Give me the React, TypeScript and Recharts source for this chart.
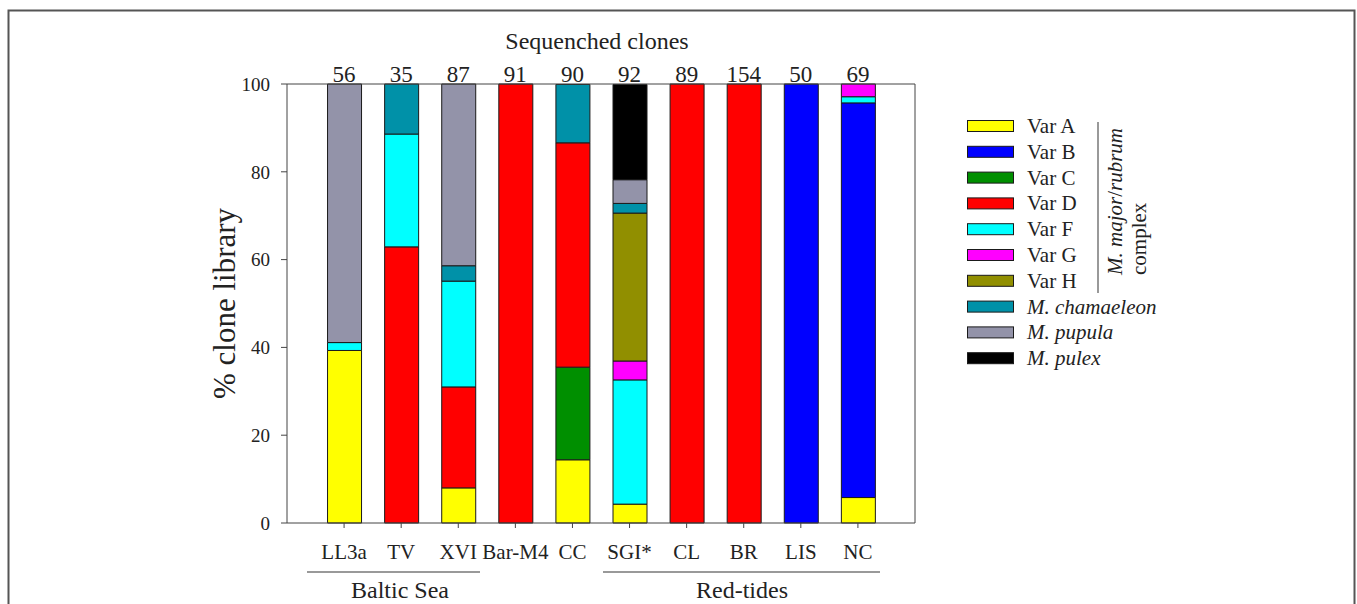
import { BarChart, Bar, XAxis, YAxis, Label, ReferenceLine } from 'recharts';

const sites = ['LL3a', 'TV', 'XVI', 'Bar-M4', 'CC', 'SGI*', 'CL', 'BR', 'LIS', 'NC'];
const clones = [56, 35, 87, 91, 90, 92, 89, 154, 50, 69];

// % of each clone library, bottom to top of each stack
const varA = [39.3, 0, 8.0, 0, 14.4, 4.3, 0, 0, 0, 5.8];
const varB = [0, 0, 0, 0, 0, 0, 0, 0, 100, 89.9];
const varC = [0, 0, 0, 0, 21.1, 0, 0, 0, 0, 0];
const varD = [0, 62.9, 23.0, 100, 51.1, 0, 100, 100, 0, 0];
const varF = [1.8, 25.7, 24.1, 0, 0, 28.3, 0, 0, 0, 1.4];
const varG = [0, 0, 0, 0, 0, 4.3, 0, 0, 0, 2.9];
const varH = [0, 0, 0, 0, 0, 33.7, 0, 0, 0, 0];
const chamaeleon = [0, 11.4, 3.5, 0, 13.3, 2.2, 0, 0, 0, 0];
const pupula = [58.9, 0, 41.4, 0, 0, 5.4, 0, 0, 0, 0];
const pulex = [0, 0, 0, 0, 0, 21.7, 0, 0, 0, 0];

const series = [
  { key: 'varA', name: 'Var A', values: varA, color: '#ffff00', italic: false },
  { key: 'varB', name: 'Var B', values: varB, color: '#0000ff', italic: false },
  { key: 'varC', name: 'Var C', values: varC, color: '#008f00', italic: false },
  { key: 'varD', name: 'Var D', values: varD, color: '#ff0000', italic: false },
  { key: 'varF', name: 'Var F', values: varF, color: '#00ffff', italic: false },
  { key: 'varG', name: 'Var G', values: varG, color: '#ff00ff', italic: false },
  { key: 'varH', name: 'Var H', values: varH, color: '#918f00', italic: false },
  { key: 'cham', name: 'M. chamaeleon', values: chamaeleon, color: '#0091a8', italic: true },
  { key: 'pupula', name: 'M. pupula', values: pupula, color: '#9393a9', italic: true },
  { key: 'pulex', name: 'M. pulex', values: pulex, color: '#000000', italic: true },
];

const data = sites.map((site, i) => {
  const row: Record<string, number | string> = { x: i + 1, site, n: clones[i] };
  series.forEach((s) => { row[s.key] = s.values[i]; });
  return row;
});

const FONT = '"Liberation Serif", "Times New Roman", serif';
const INK = '#222';
const AXIS = '#444';

export default function App() {
  return (
    <div style={{ position: 'absolute', left: 0, top: 0, width: 1357, height: 604, overflow: 'hidden', background: '#fff', fontFamily: FONT }}>
      <BarChart
        width={1357}
        height={604}
        data={data}
        margin={{ top: 54, right: 442, bottom: 51, left: 227 }}
        barSize={34}
      >
        <XAxis
          dataKey="x"
          type="number"
          domain={[0, 11]}
          ticks={[1, 2, 3, 4, 5, 6, 7, 8, 9, 10]}
          tickFormatter={(v: number) => sites[v - 1]}
          height={30}
          tickSize={5}
          tickMargin={16}
          stroke={AXIS}
          tick={{ fill: INK, fontSize: 21, fontFamily: FONT }}
        />
        <XAxis
          xAxisId="top"
          orientation="top"
          dataKey="x"
          type="number"
          domain={[0, 11]}
          ticks={[1, 2, 3, 4, 5, 6, 7, 8, 9, 10]}
          tickFormatter={(v: number) => String(clones[v - 1])}
          height={30}
          tickSize={0}
          tickMargin={2}
          tickLine={false}
          stroke={AXIS}
          tick={{ fill: INK, fontSize: 23, fontFamily: FONT }}
        />
        <YAxis
          type="number"
          domain={[0, 100]}
          ticks={[0, 20, 40, 60, 80, 100]}
          width={60}
          tickSize={6}
          tickMargin={11}
          stroke={AXIS}
          tick={{ fill: INK, fontSize: 19, fontFamily: FONT }}
        >
          <Label
            value="% clone library"
            angle={-90}
            position="left"
            offset={3}
            style={{ textAnchor: 'middle', fontSize: 31, fontFamily: FONT, fill: INK }}
          />
        </YAxis>
        <ReferenceLine x={11} stroke={AXIS} strokeWidth={1} ifOverflow="visible" />
        {series.map((s) => (
          <Bar
            key={s.key}
            dataKey={s.key}
            name={s.name}
            stackId="a"
            fill={s.color}
            stroke="#1a1a1a"
            strokeWidth={1}
            isAnimationActive={false}
          />
        ))}
      </BarChart>

      <svg width={1357} height={604} style={{ position: 'absolute', left: 0, top: 0, pointerEvents: 'none' }}>
        <rect x={8.5} y={10.5} width={1346} height={640} fill="none" stroke="#555" strokeWidth={2} />
        <text x={597} y={49} textAnchor="middle" fontSize={24} fill={INK} fontFamily={FONT}>Sequenched clones</text>

        <line x1={307} x2={480} y1={572} y2={572} stroke="#777" strokeWidth={1.5} />
        <line x1={603} x2={880} y1={572} y2={572} stroke="#777" strokeWidth={1.5} />
        <text x={400} y={598} textAnchor="middle" fontSize={24} fill={INK} fontFamily={FONT}>Baltic Sea</text>
        <text x={742} y={598} textAnchor="middle" fontSize={24} fill={INK} fontFamily={FONT}>Red-tides</text>

        {series.map((s, i) => {
          const cy = 126 + i * 25.8;
          return (
            <g key={s.key}>
              <rect x={967.5} y={cy - 5.5} width={46} height={11} fill={s.color} stroke="#1a1a1a" strokeWidth={1} />
              <text x={1027} y={cy + 7} fontSize={21} fill={INK} fontFamily={FONT} fontStyle={s.italic ? 'italic' : 'normal'}>{s.name}</text>
            </g>
          );
        })}
        <line x1={1098} x2={1098} y1={122} y2={293} stroke="#777" strokeWidth={1.5} />
        <text x={1122} y={275} transform="rotate(-90 1122 275)" fontSize={21} fill={INK} fontFamily={FONT}>
          <tspan fontStyle="italic">M. major</tspan>
          <tspan>/</tspan>
          <tspan fontStyle="italic">rubrum</tspan>
        </text>
        <text x={1146} y={275} transform="rotate(-90 1146 275)" fontSize={21} fill={INK} fontFamily={FONT}>complex</text>
      </svg>
    </div>
  );
}
